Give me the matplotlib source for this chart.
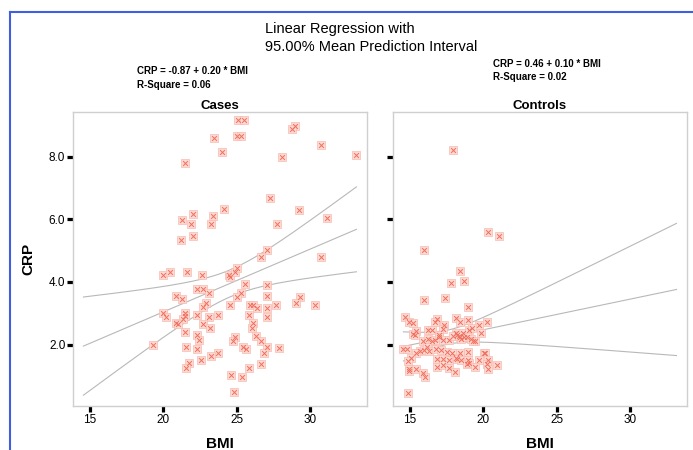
import numpy as np
import matplotlib
matplotlib.use("Agg")
import matplotlib.pyplot as plt
from matplotlib.lines import Line2D
from matplotlib.ticker import FormatStrFormatter

# Data (BMI, CRP)
cases_bmi = [25.09, 25.48, 25.02, 25.27, 23.45, 24.00, 21.48, 24.09, 22.00, 21.27,
             23.36, 21.90, 23.27, 22.00, 21.18,
             28.93, 28.75, 30.75, 33.14, 28.05, 27.27, 29.20, 31.11, 27.75, 27.02,
             26.67, 30.75,
             20.00, 20.45, 21.63, 22.63, 24.45, 24.54, 24.90, 25.00, 22.27, 22.72,
             23.09, 25.55, 20.82, 21.27, 25.27, 25.00, 22.91, 22.72, 24.54, 25.90,
             26.09, 26.36, 20.00, 20.18, 21.45, 21.45, 21.36, 22.27, 23.09, 23.73,
             25.82, 20.82, 21.00, 22.72, 23.18, 26.09, 26.00, 21.45, 22.27, 22.45,
             26.27, 24.90, 24.72, 19.27, 21.55, 22.27, 25.45, 25.64, 23.73, 23.27,
             22.55, 21.73, 21.55, 25.82, 24.63, 25.36, 24.82,
             27.02, 27.02, 29.29, 29.02, 30.29, 27.66, 27.02, 27.02, 26.67, 27.02,
             27.84, 26.84, 26.67]
cases_crp = [9.18, 9.18, 8.67, 8.67, 8.58, 8.16, 7.79, 6.33, 6.16, 5.99,
             6.11, 5.86, 5.86, 5.48, 5.35,
             8.98, 8.88, 8.37, 8.04, 7.99, 6.67, 6.29, 6.03, 5.86, 5.01,
             4.79, 4.79,
             4.23, 4.32, 4.32, 4.23, 4.23, 4.15, 4.32, 4.45, 3.77, 3.77,
             3.64, 3.94, 3.56, 3.47, 3.64, 3.51, 3.34, 3.21, 3.27, 3.27,
             3.27, 3.17, 3.00, 2.87, 3.00, 2.92, 2.83, 2.96, 2.87, 2.96,
             2.96, 2.70, 2.66, 2.66, 2.53, 2.70, 2.53, 2.40, 2.32, 2.15,
             2.28, 2.24, 2.11, 1.98, 1.94, 1.85, 1.94, 1.85, 1.73, 1.64,
             1.51, 1.43, 1.26, 1.26, 1.04, 0.96, 0.49,
             3.89, 3.55, 3.51, 3.34, 3.26, 3.26, 3.17, 2.87, 2.11, 1.94,
             1.89, 1.73, 1.38]

controls_bmi = [17.93, 20.28, 21.03, 15.95,
                18.40, 17.77, 18.67, 15.95, 17.40, 18.95,
                14.66, 14.95, 15.23, 16.81, 16.68, 18.13, 18.40, 18.95, 17.31, 19.67, 20.22,
                15.23, 15.41, 15.32, 16.22, 16.50, 17.22, 18.13, 18.22, 18.40, 18.58,
                18.67, 19.04, 19.22, 19.85, 16.95,
                15.86, 16.22, 16.50, 16.68, 16.95, 17.22, 17.68, 17.95, 18.31, 18.49,
                18.86, 19.13, 19.40, 19.31,
                14.55, 14.77, 15.68, 15.95, 16.13, 16.31, 16.77, 17.13, 17.49, 17.86,
                18.40, 18.95, 15.41, 20.03, 20.12,
                15.05, 14.86, 16.86, 17.22, 17.68, 18.13, 18.22, 18.49, 18.95, 19.67, 20.31,
                14.91, 14.95, 15.41, 15.86, 16.04, 16.86, 17.22, 17.68, 18.04, 18.86,
                19.04, 19.40, 20.22, 20.31, 20.94, 14.86]
controls_crp = [8.20, 5.60, 5.48, 5.01,
                4.36, 3.98, 4.02, 3.43, 3.48, 3.21,
                2.87, 2.72, 2.68, 2.81, 2.72, 2.85, 2.72, 2.79, 2.62, 2.62, 2.72,
                2.34, 2.45, 2.30, 2.47, 2.47, 2.49, 2.38, 2.30, 2.26, 2.36,
                2.24, 2.47, 2.53, 2.36, 2.32,
                2.12, 2.17, 2.11, 2.15, 2.26, 2.15, 2.15, 2.28, 2.28, 2.17,
                2.26, 2.19, 2.13, 2.11,
                1.85, 1.85, 1.79, 1.83, 1.92, 1.79, 1.85, 1.83, 1.77, 1.75,
                1.75, 1.77, 1.72, 1.72, 1.72,
                1.58, 1.47, 1.55, 1.55, 1.51, 1.58, 1.53, 1.51, 1.51, 1.51, 1.51,
                1.24, 1.15, 1.21, 1.09, 0.96, 1.30, 1.36, 1.26, 1.13, 1.38,
                1.43, 1.30, 1.38, 1.21, 1.34, 0.45]

panels = ["Cases", "Controls"]
equations = ["CRP = -0.87 + 0.20 * BMI", "CRP = 0.46 + 0.10 * BMI"]
r_squares = ["R-Square = 0.06", "R-Square = 0.02"]
x_ticks = [15, 20, 25, 30]
y_ticks = [2.0, 4.0, 6.0, 8.0]

T_CRIT = 1.985  # t(0.975, ~95 df)

plt.rcParams['font.family'] = ['Liberation Sans', 'DejaVu Sans']

fig = plt.figure(figsize=(6.93, 4.5), dpi=100)
W, H = 693.0, 450.0


def axes_px(x0, y0, x1, y1):
    return fig.add_axes([x0 / W, 1 - y1 / H, (x1 - x0) / W, (y1 - y0) / H])


ax_l = axes_px(73, 112, 367, 406)
ax_r = axes_px(393, 112, 687, 406)

all_bmi = np.array(cases_bmi + controls_bmi)
xs = np.linspace(all_bmi.min(), all_bmi.max(), 200)


def band(x, y, grid):
    x = np.asarray(x)
    y = np.asarray(y)
    n = len(x)
    b, a = np.polyfit(x, y, 1)
    resid = y - (a + b * x)
    s = np.sqrt(np.sum(resid ** 2) / (n - 2))
    sxx = np.sum((x - x.mean()) ** 2)
    fit = a + b * grid
    half = T_CRIT * s * np.sqrt(1.0 / n + (grid - x.mean()) ** 2 / sxx)
    return fit, fit - half, fit + half


data = [(cases_bmi, cases_crp), (controls_bmi, controls_crp)]
for ax, (bx, cy), name in zip([ax_l, ax_r], data, panels):
    fit, lo, hi = band(bx, cy, xs)
    for line in (fit, lo, hi):
        ax.plot(xs, line, color='#b8b8b8', lw=0.8, zorder=2)
    ax.scatter(bx, cy, marker='s', s=26, facecolor='#fdd9d2', edgecolor='#f8bcb2',
               linewidths=0.5, zorder=3)
    ax.scatter(bx, cy, marker='x', s=12, color='#f0705f', linewidths=0.7, zorder=4)

    ax.set_xlim(13.84, 33.86)
    ax.set_ylim(0.045, 9.42)
    ax.set_xticks(x_ticks)
    ax.set_yticks(y_ticks)
    ax.yaxis.set_major_formatter(FormatStrFormatter('%.1f'))
    for sp in ax.spines.values():
        sp.set_color('#cfcfcf')
        sp.set_linewidth(1.0)
    ax.tick_params(axis='both', direction='out', color='black', labelsize=8.5)
    ax.tick_params(axis='y', length=4.5, width=2.3, pad=1)
    ax.tick_params(axis='x', length=4.0, width=2.3, pad=2)
    ax.set_title(name, fontsize=9.5, fontweight='bold', pad=2)
    ax.set_xlabel('BMI', fontsize=11, fontweight='bold', labelpad=8)

ax_r.tick_params(axis='y', labelleft=False)
ax_l.set_ylabel('CRP', fontsize=11, fontweight='bold', labelpad=10)

# title and fit equations
fig.text(265 / W, 1 - 29 / H, 'Linear Regression with', fontsize=10.5,
         ha='left', va='center')
fig.text(265 / W, 1 - 47 / H, '95.00% Mean Prediction Interval', fontsize=10.5,
         ha='left', va='center')

eq_pos = [(137, 71, 85), (493, 64, 77)]
for (x, y1, y2), eq, r2 in zip(eq_pos, equations, r_squares):
    fig.text(x / W, 1 - y1 / H, eq, fontsize=7, fontweight='bold',
             family=['Liberation Sans Narrow', 'Liberation Sans'], ha='left', va='center')
    fig.text(x / W, 1 - y2 / H, r2, fontsize=7, fontweight='bold',
             family=['Liberation Sans Narrow', 'Liberation Sans'], ha='left', va='center')

# blue frame around the chart
fig.add_artist(Line2D([10 / W, 1.0], [1 - 12 / H, 1 - 12 / H], color='#3f5fe0', lw=1.5))
fig.add_artist(Line2D([10 / W, 10 / W], [0.0, 1 - 12 / H], color='#3f5fe0', lw=1.5))

fig.savefig('out.png', dpi=100)
